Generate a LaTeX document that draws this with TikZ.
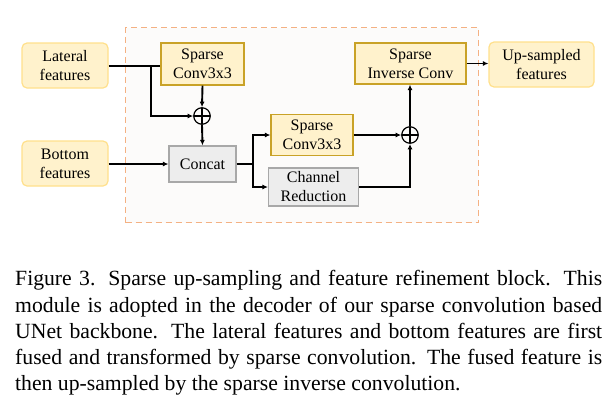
\documentclass[tikz,border=0pt]{standalone}
\usepackage{fontspec}
\setmainfont{Liberation Serif}
\usetikzlibrary{arrows.meta,calc}
\definecolor{yfill}{HTML}{FFF2CC}
\definecolor{yborder}{HTML}{FFE08C}
\definecolor{gborder}{HTML}{C9A227}
\definecolor{grfill}{HTML}{EDEDED}
\definecolor{grborder}{HTML}{A8A8A8}
\definecolor{dashc}{HTML}{F4B183}
\definecolor{bgfill}{HTML}{FCFBFA}
\tikzset{
  io/.style={draw=yborder, fill=yfill, line width=1.2pt, rounded corners=5pt, align=center, font=\fontsize{16}{19}\selectfont, inner sep=0pt},
  conv/.style={draw=gborder, fill=yfill, line width=1.2pt, align=center, font=\fontsize{16}{19}\selectfont, inner sep=0pt},
  gray/.style={draw=grborder, fill=grfill, line width=1.2pt, align=center, font=\fontsize{16}{19}\selectfont, inner sep=0pt},
  plusc/.style={circle, draw=black, line width=1.2pt, minimum size=16.5pt, inner sep=0pt, path picture={\draw[line width=1.2pt] (path picture bounding box.north) -- (path picture bounding box.south) (path picture bounding box.west) -- (path picture bounding box.east);}},
  conn/.style={line width=1.9pt, -{Latex[length=5.5pt,width=5pt]}},
  line/.style={line width=1.9pt},
}
\begin{document}
\begin{tikzpicture}[x=1pt,y=-1pt]
\useasboundingbox (0,0) rectangle (615,405);
% dashed frame
\node[draw=dashc, fill=bgfill, dashed, dash pattern=on 6pt off 4pt, line width=1.2pt, minimum width=353pt, minimum height=195pt, anchor=north west, inner sep=0pt] (frame) at (125,27) {};
% nodes
\node[io, minimum width=86pt, minimum height=45pt] (lat) at (65,65.5) {Lateral\\features};
\node[io, minimum width=86pt, minimum height=45pt] (bot) at (65,163.5) {Bottom\\features};
\node[conv, minimum width=83pt, minimum height=42pt] (sc1) at (202.5,64) {Sparse\\Conv3x3};
\node[plusc] (p1) at (202,116) {};
\node[gray, minimum width=67pt, minimum height=36pt] (cat) at (202.5,164) {Concat};
\node[conv, minimum width=82pt, minimum height=41pt] (sc2) at (312,135) {Sparse\\Conv3x3};
\node[gray, minimum width=90pt, minimum height=38pt] (cr) at (313.5,187) {Channel\\Reduction};
\node[plusc] (p2) at (410,135) {};
\node[conv, minimum width=111pt, minimum height=41pt] (sic) at (410.5,63.5) {Sparse\\Inverse Conv};
\node[io, minimum width=105pt, minimum height=45pt] (up) at (541.5,64.5) {Up-sampled\\features};
% coordinates
\coordinate (b1) at (151,66);
\coordinate (b2) at (253,164);
% connectors
\draw[line] (lat.east |- b1) -- (sc1.west |- b1);
\draw[conn] (b1) |- (p1.west);
\draw[conn] (sc1.south) -- (p1.north);
\draw[conn] (p1.south) -- (cat.north);
\draw[conn] (bot.east |- cat.west) -- (cat.west);
\draw[line] (cat.east) -- (b2);
\draw[conn] (b2) |- (sc2.west);
\draw[conn] (b2) |- (cr.west);
\draw[conn] (sc2.east) -- (p2.west);
\draw[conn] (cr.east) -| (p2.south);
\draw[conn] (p2.north) -- (sic.south -| p2.north);
\draw[conn] (sic.east) -- (up.west |- sic.east);
% caption
\node[anchor=north west, inner sep=0pt, text width=587pt, align=justify, font=\fontsize{21.7}{26.25}\selectfont] (cap) at (15,270.5) {Figure 3. Sparse up-sampling and feature refinement block. This module is adopted in the decoder of our sparse convolution based UNet backbone. The lateral features and bottom features are first fused and transformed by sparse convolution. The fused feature is then up-sampled by the sparse inverse convolution.};
\end{tikzpicture}
\end{document}
